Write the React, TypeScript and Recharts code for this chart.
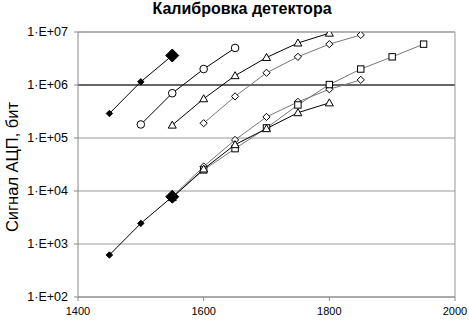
import React from 'react';
import { LineChart, Line, XAxis, YAxis, CartesianGrid, ReferenceLine } from 'recharts';

const xTicks = [1400, 1600, 1800, 2000];
const yTicks = [1e2, 1e3, 1e4, 1e5, 1e6, 1e7];

const upperFilledX = [1450, 1500, 1550];
const upperFilledY = [2.9e5, 1.15e6, 3.6e6];
const upperCircleX = [1500, 1550, 1600, 1650];
const upperCircleY = [1.8e5, 7.0e5, 2.0e6, 5.0e6];
const upperTriX = [1550, 1600, 1650, 1700, 1750, 1800];
const upperTriY = [1.75e5, 5.5e5, 1.5e6, 3.3e6, 6.2e6, 9.5e6];
const upperDiaX = [1600, 1650, 1700, 1750, 1800, 1850];
const upperDiaY = [1.9e5, 6.1e5, 1.7e6, 3.4e6, 5.9e6, 8.8e6];

const lowerFilledX = [1450, 1500, 1550];
const lowerFilledY = [6.2e2, 2.45e3, 7.8e3];
const lowerTriX = [1550, 1600, 1650, 1700, 1750, 1800];
const lowerTriY = [7.5e3, 2.6e4, 7.5e4, 1.5e5, 3.0e5, 4.6e5];
const lowerSqX = [1550, 1600, 1650, 1700, 1750, 1800, 1850, 1900, 1950];
const lowerSqY = [7.6e3, 2.5e4, 6.3e4, 1.55e5, 4.2e5, 1.02e6, 2.0e6, 3.4e6, 5.9e6];
const lowerDiaX = [1550, 1600, 1650, 1700, 1750, 1800, 1850];
const lowerDiaY = [7.8e3, 2.9e4, 9.2e4, 2.5e5, 4.8e5, 8.3e5, 1.25e6];

const zip = (xs: number[], ys: number[]) => xs.map((x, i) => ({ x, y: ys[i] }));

type Shape = 'circle' | 'triangle' | 'diamond' | 'square' | 'filled';

const makeDot = (shape: Shape, bigLast = false) => (props: any) => {
  const { cx, cy, index, points } = props;
  const key = `d-${index}`;
  if (cx == null || cy == null) return <g key={key} />;
  const isBig = bigLast && points && index === points.length - 1;
  if (shape === 'filled') {
    const r = isBig ? 6.5 : 3.2;
    return (
      <path key={key} d={`M${cx},${cy - r}L${cx + r},${cy}L${cx},${cy + r}L${cx - r},${cy}Z`} fill="#000" stroke="#000" strokeWidth={1} />
    );
  }
  if (shape === 'circle') return <circle key={key} cx={cx} cy={cy} r={3.8} fill="#fff" stroke="#000" strokeWidth={1} />;
  if (shape === 'triangle') {
    const r = 4;
    return <path key={key} d={`M${cx},${cy - r}L${cx + r},${cy + r * 0.75}L${cx - r},${cy + r * 0.75}Z`} fill="#fff" stroke="#000" strokeWidth={1} />;
  }
  if (shape === 'diamond') {
    const r = 3.6;
    return <path key={key} d={`M${cx},${cy - r}L${cx + r},${cy}L${cx},${cy + r}L${cx - r},${cy}Z`} fill="#fff" stroke="#000" strokeWidth={1} />;
  }
  const r = 3.2;
  return <rect key={key} x={cx - r} y={cy - r} width={2 * r} height={2 * r} fill="#fff" stroke="#000" strokeWidth={1} />;
};

const fmtY = (v: number) => `1·E+0${Math.round(Math.log10(v))}`;

export default function App() {
  return (
    <div style={{ position: 'absolute', left: 0, top: 0, width: 469, height: 320, background: '#fff', fontFamily: '"Liberation Sans", Arial, sans-serif' }}>
      <div style={{ position: 'absolute', left: 0, width: 484, top: 0, textAlign: 'center', fontSize: 16, fontWeight: 'bold', lineHeight: '18px', color: '#000' }}>
        Калибровка детектора
      </div>
      <div style={{ position: 'absolute', left: 12, top: 167, width: 0, height: 0 }}>
        <div style={{ position: 'absolute', left: -100, top: -9, width: 200, textAlign: 'center', fontSize: 16.5, lineHeight: '18px', transform: 'rotate(-90deg)', color: '#000', whiteSpace: 'nowrap' }}>
          Сигнал АЦП, бит
        </div>
      </div>
      <LineChart width={469} height={320} margin={{ top: 32, right: 14, bottom: 0, left: 0 }}>
        <CartesianGrid vertical={false} horizontal stroke="#999" horizontalValues={yTicks} />
        <XAxis type="number" dataKey="x" domain={[1400, 2000]} ticks={xTicks} allowDataOverflow height={23}
          stroke="#888" tickSize={4} tickMargin={6} tick={{ fill: '#000', fontSize: 11 }} />
        <YAxis type="number" dataKey="y" scale="log" domain={[100, 1e7]} ticks={yTicks} allowDataOverflow width={78}
          stroke="#888" tickSize={4} tickMargin={6} tickFormatter={fmtY} tick={{ fill: '#000', fontSize: 12.5 }} />
        <ReferenceLine y={1e6} stroke="#000" strokeWidth={1} />
        <ReferenceLine x={2000} stroke="#999" strokeWidth={1} />
        <ReferenceLine y={1e7} stroke="#999" strokeWidth={1} />
        <Line data={zip(upperDiaX, upperDiaY)} dataKey="y" stroke="#777" strokeWidth={1} dot={makeDot('diamond')} isAnimationActive={false} />
        <Line data={zip(upperTriX, upperTriY)} dataKey="y" stroke="#000" strokeWidth={1} dot={makeDot('triangle')} isAnimationActive={false} />
        <Line data={zip(upperCircleX, upperCircleY)} dataKey="y" stroke="#000" strokeWidth={1} dot={makeDot('circle')} isAnimationActive={false} />
        <Line data={zip(upperFilledX, upperFilledY)} dataKey="y" stroke="#000" strokeWidth={1} dot={makeDot('filled', true)} isAnimationActive={false} />
        <Line data={zip(lowerDiaX, lowerDiaY)} dataKey="y" stroke="#777" strokeWidth={1} dot={makeDot('diamond')} isAnimationActive={false} />
        <Line data={zip(lowerSqX, lowerSqY)} dataKey="y" stroke="#777" strokeWidth={1} dot={makeDot('square')} isAnimationActive={false} />
        <Line data={zip(lowerTriX, lowerTriY)} dataKey="y" stroke="#000" strokeWidth={1} dot={makeDot('triangle')} isAnimationActive={false} />
        <Line data={zip(lowerFilledX, lowerFilledY)} dataKey="y" stroke="#000" strokeWidth={1} dot={makeDot('filled', true)} isAnimationActive={false} />
      </LineChart>
    </div>
  );
}
